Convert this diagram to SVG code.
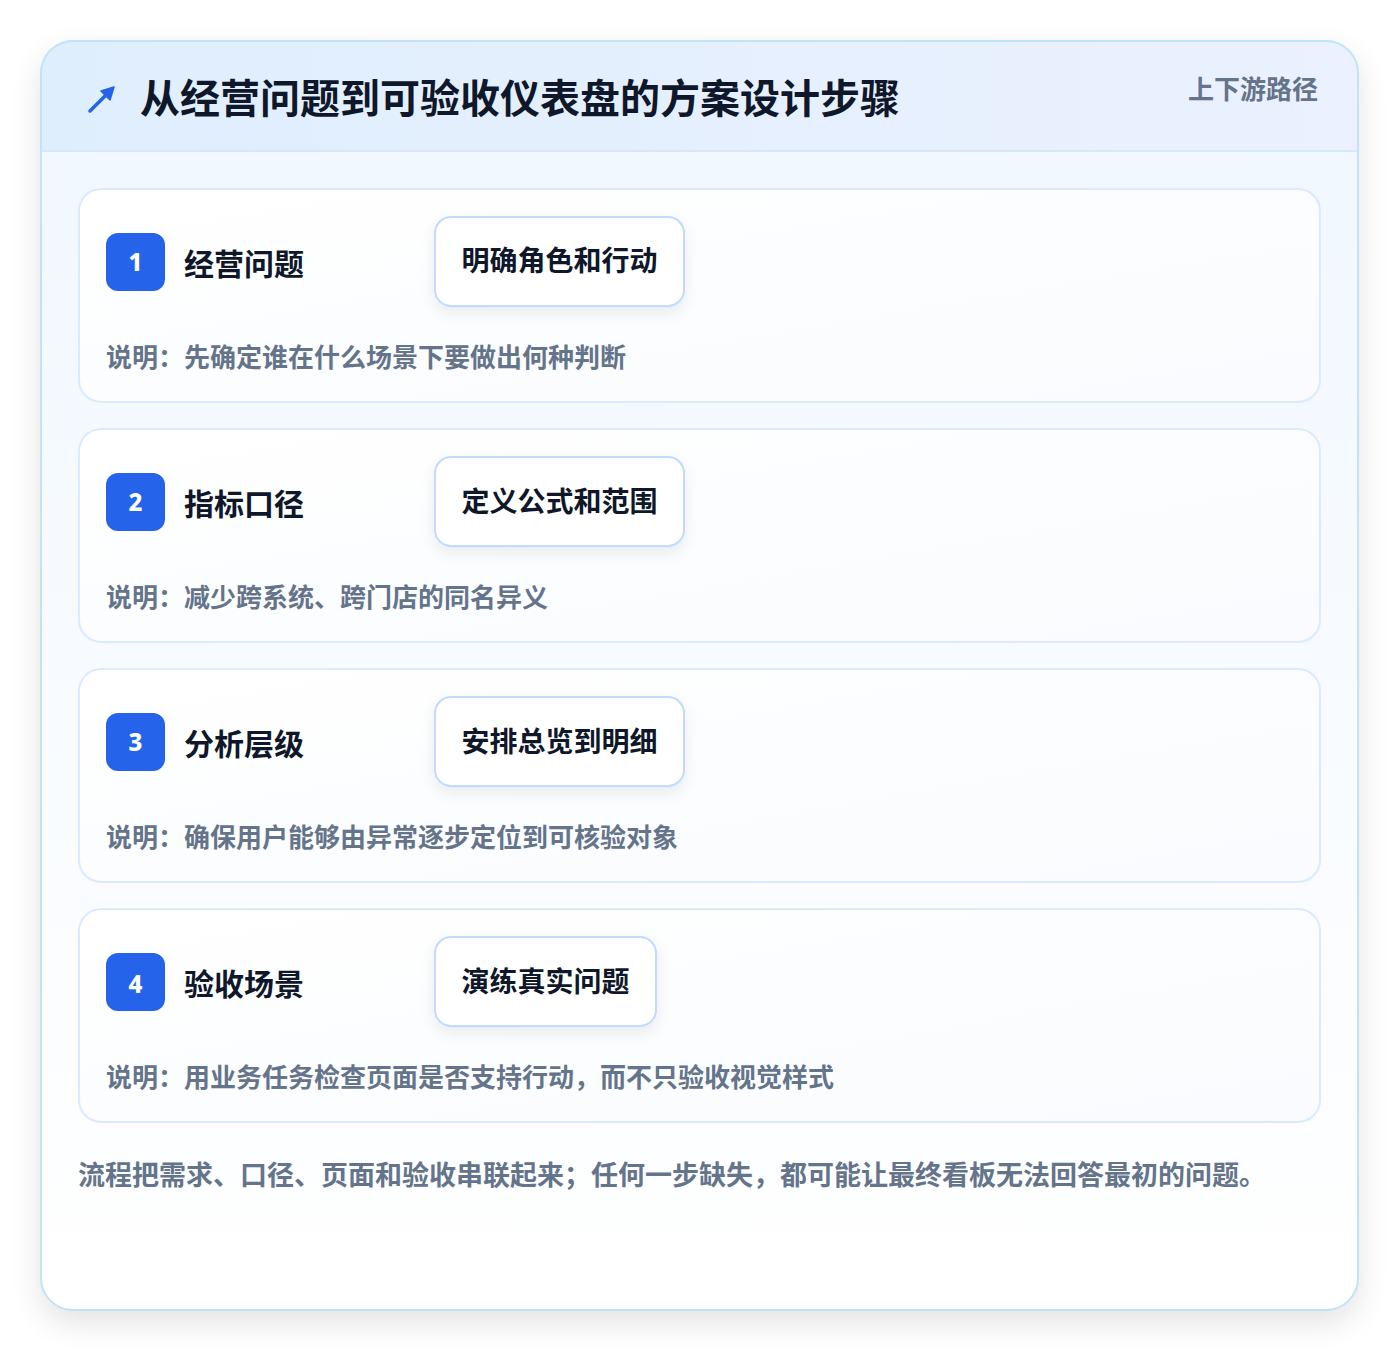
<svg xmlns="http://www.w3.org/2000/svg" width="1400" height="1352" viewBox="0 0 1400 1352">
<defs>
<style>
.t{font-family:"Noto Sans CJK SC","Noto Sans",sans-serif;font-weight:700}
.title{font-size:40px;fill:#0f172a}
.tag{font-size:26px;fill:#64748b}
.step{fill:url(#cardg);stroke:#dbeafe;stroke-width:2}
.badge{fill:#2563eb}
.num{font-family:"Noto Sans","Liberation Sans",sans-serif;font-weight:800;font-size:24px;fill:#fff}
.name{font-size:30px;fill:#0f172a}
.pill{fill:#fff;stroke:#bfdbfe;stroke-width:2}
.ptxt{font-size:28px;fill:#0f172a}
.desc{font-size:26px;fill:#64748b}
.foot{font-size:27px;fill:#64748b}
</style>
<linearGradient id="hdr" x1="0" y1="0" x2="1" y2="0">
<stop offset="0" stop-color="#dfeefd"/><stop offset="1" stop-color="#ebf1fe"/>
</linearGradient>
<linearGradient id="body" x1="0" y1="0" x2="0" y2="1">
<stop offset="0" stop-color="#f0f7ff"/><stop offset="1" stop-color="#ffffff"/>
</linearGradient>
<linearGradient id="cardg" x1="0" y1="0" x2="1" y2="1">
<stop offset="0" stop-color="#ffffff"/><stop offset="1" stop-color="#f9fbfe"/>
</linearGradient>
<filter id="sh" x="-10%" y="-10%" width="120%" height="120%">
<feGaussianBlur in="SourceAlpha" stdDeviation="16"/>
<feOffset dy="12"/>
<feComponentTransfer><feFuncA type="linear" slope="0.12"/></feComponentTransfer>
<feMerge><feMergeNode/><feMergeNode in="SourceGraphic"/></feMerge>
</filter>
<filter id="psh" x="-20%" y="-30%" width="140%" height="170%">
<feGaussianBlur in="SourceAlpha" stdDeviation="8"/>
<feOffset dy="6"/>
<feComponentTransfer><feFuncA type="linear" slope="0.08"/></feComponentTransfer>
<feMerge><feMergeNode/><feMergeNode in="SourceGraphic"/></feMerge>
</filter>
<clipPath id="cardclip"><rect x="41" y="41" width="1317" height="1269" rx="32"/></clipPath>
</defs>
<rect width="1400" height="1352" fill="#ffffff"/>
<g id="frame">
<rect x="41" y="41" width="1317" height="1269" rx="32" fill="url(#body)" filter="url(#sh)"/>
<g clip-path="url(#cardclip)">
<rect x="41" y="41" width="1317" height="110" fill="url(#hdr)"/>
<line x1="41" y1="151" x2="1358" y2="151" stroke="#d6e7f8" stroke-width="2"/>
</g>
<rect x="41" y="41" width="1317" height="1269" rx="32" fill="none" stroke="#bfe3f7" stroke-width="2"/>
</g>
<g id="header">
<g stroke="#2563eb" stroke-width="3.5" stroke-linecap="round" fill="#2563eb">
<line x1="90" y1="111" x2="110" y2="91"/>
<polygon points="114,87 101,91 110,100" stroke-width="1.5" stroke-linejoin="round"/>
</g>
<text class="t title" x="140" y="113">从经营问题到可验收仪表盘的方案设计步骤</text>
<text class="t tag" x="1318" y="99" text-anchor="end">上下游路径</text>
</g>
<g id="step1">
<rect class="step" x="79" y="189" width="1241" height="213" rx="22"/>
<rect class="badge" x="106" y="233" width="59" height="58" rx="12"/>
<text class="num" x="135.5" y="271" text-anchor="middle">1</text>
<text class="t name" x="184" y="275">经营问题</text>
<rect class="pill" x="435" y="217" width="249" height="89" rx="16" filter="url(#psh)"/>
<text class="t ptxt" x="559.5" y="271" text-anchor="middle">明确角色和行动</text>
<text class="t desc" x="106" y="367">说明：先确定谁在什么场景下要做出何种判断</text>
</g>
<g id="step2">
<rect class="step" x="79" y="429" width="1241" height="213" rx="22"/>
<rect class="badge" x="106" y="473" width="59" height="58" rx="12"/>
<text class="num" x="135.5" y="511" text-anchor="middle">2</text>
<text class="t name" x="184" y="515">指标口径</text>
<rect class="pill" x="435" y="457" width="249" height="89" rx="16" filter="url(#psh)"/>
<text class="t ptxt" x="559.5" y="512" text-anchor="middle">定义公式和范围</text>
<text class="t desc" x="106" y="607">说明：减少跨系统、跨门店的同名异义</text>
</g>
<g id="step3">
<rect class="step" x="79" y="669" width="1241" height="213" rx="22"/>
<rect class="badge" x="106" y="713" width="59" height="58" rx="12"/>
<text class="num" x="135.5" y="751" text-anchor="middle">3</text>
<text class="t name" x="184" y="755">分析层级</text>
<rect class="pill" x="435" y="697" width="249" height="89" rx="16" filter="url(#psh)"/>
<text class="t ptxt" x="559.5" y="752" text-anchor="middle">安排总览到明细</text>
<text class="t desc" x="106" y="847">说明：确保用户能够由异常逐步定位到可核验对象</text>
</g>
<g id="step4">
<rect class="step" x="79" y="909" width="1241" height="213" rx="22"/>
<rect class="badge" x="106" y="953" width="59" height="58" rx="12"/>
<text class="num" x="135.5" y="993" text-anchor="middle">4</text>
<text class="t name" x="184" y="995">验收场景</text>
<rect class="pill" x="435" y="937" width="221" height="89" rx="16" filter="url(#psh)"/>
<text class="t ptxt" x="545.5" y="992" text-anchor="middle">演练真实问题</text>
<text class="t desc" x="106" y="1087">说明：用业务任务检查页面是否支持行动，而不只验收视觉样式</text>
</g>
<g id="connectors"></g>
<g id="footer">
<text class="t foot" x="78" y="1185">流程把需求、口径、页面和验收串联起来；任何一步缺失，都可能让最终看板无法回答最初的问题。</text>
</g>
</svg>
